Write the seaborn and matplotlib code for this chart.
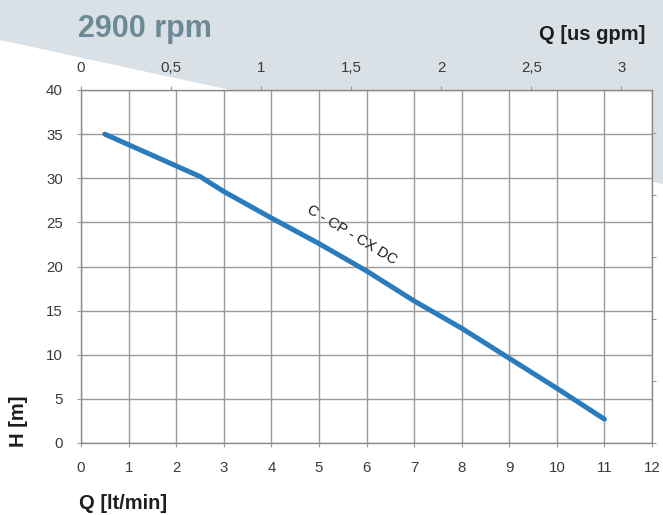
import matplotlib
matplotlib.use("Agg")
import matplotlib.pyplot as plt
from matplotlib.patches import Polygon
import seaborn as sns
import pandas as pd

# ---- data ----
q_lpm = [0.5, 1, 2, 2.5, 3, 4, 5, 6, 7, 8, 9, 10, 11]
h_m = [35.0, 33.8, 31.4, 30.2, 28.5, 25.5, 22.6, 19.5, 16.1, 13.0, 9.6, 6.2, 2.7]
series_name = "C - CP - CX DC"
x_ticks = list(range(0, 13))
y_ticks = list(range(0, 41, 5))
gpm_ticks = [0, 0.5, 1, 1.5, 2, 2.5, 3]
gpm_labels = ["0", "0,5", "1", "1,5", "2", "2,5", "3"]
psi_ticks = [0, 10, 20, 30, 40, 50]
title = "2900 rpm"
LPM_PER_GPM = 3.785
M_PER_PSI = 0.70307

W, H = 663, 515
sns.set_theme(style="white")
plt.rcParams["font.family"] = ["Liberation Sans", "DejaVu Sans"]

fig = plt.figure(figsize=(W / 100, H / 100), dpi=100)
fig.patch.set_facecolor("white")

# background band
band = Polygon([(0, 1), (1, 1), (1, 1 - 184 / H), (0, 1 - 40 / H)],
               closed=True, transform=fig.transFigure, facecolor="#d9e1e6",
               edgecolor="none", zorder=-5)
fig.patches.append(band)

ax = fig.add_axes([81 / W, 1 - 443 / H, (652 - 81) / W, (443 - 90) / H])
ax.set_facecolor("white")
ax.set_zorder(1)

df = pd.DataFrame({"q": q_lpm, "h": h_m})
sns.lineplot(data=df, x="q", y="h", ax=ax, color="#2b7cbd", linewidth=3.6,
             solid_capstyle="round", zorder=5)

ax.set_xlim(0, 12)
ax.set_ylim(0, 40)
ax.set_xticks(x_ticks)
ax.set_yticks(y_ticks)
ax.set_xlabel("")
ax.set_ylabel("")
grid_c = "#9a9a9a"
ax.grid(True, color=grid_c, linewidth=1.0)
for s in ax.spines.values():
    s.set_color("#8a8a8a")
    s.set_linewidth(1.0)
ax.tick_params(axis="both", which="both", direction="out", length=3, width=0.8,
               color="#999999", labelsize=10.8, labelcolor="#3a3a3a", pad=10)
ax.tick_params(axis="x", bottom=True)
ax.tick_params(axis="y", left=True)

# top axis: US gpm
top = ax.secondary_xaxis("top", functions=(lambda q: q / LPM_PER_GPM,
                                           lambda g: g * LPM_PER_GPM))
top.set_xticks(gpm_ticks)
top.set_xticklabels(gpm_labels)
top.tick_params(direction="out", length=3, width=0.8, color="#999999",
                labelsize=10.8, labelcolor="#3a3a3a", pad=8)
top.spines["top"].set_visible(False)

# right axis: psi ticks without labels
right = ax.secondary_yaxis("right", functions=(lambda m: m / M_PER_PSI,
                                               lambda p: p * M_PER_PSI))
right.set_yticks(psi_ticks)
right.set_yticklabels([])
right.tick_params(direction="out", length=3, width=0.8, color="#999999")
right.spines["right"].set_visible(False)

# curve label
ax.text(5.69, 23.6, series_name, rotation=-31, rotation_mode="anchor",
        ha="center", va="center", fontsize=10.5, color="#1a1a1a", zorder=6)

# texts
fig.text(78 / W, 1 - 37 / H, title, fontsize=22, fontweight="bold",
         color="#6e8996", ha="left", va="baseline")
fig.text(645 / W, 1 - 40 / H, "Q [us gpm]", fontsize=14.5, fontweight="bold",
         color="#1e1e1e", ha="right", va="baseline")
fig.text(79 / W, 1 - 509 / H, "Q [lt/min]", fontsize=14.5, fontweight="bold",
         color="#1e1e1e", ha="left", va="baseline")
fig.text(18 / W, 1 - 421 / H, "H [m]", fontsize=14.5, fontweight="bold",
         color="#1e1e1e", ha="center", va="center", rotation=90)

fig.savefig("out.png", dpi=100, facecolor=fig.get_facecolor())
